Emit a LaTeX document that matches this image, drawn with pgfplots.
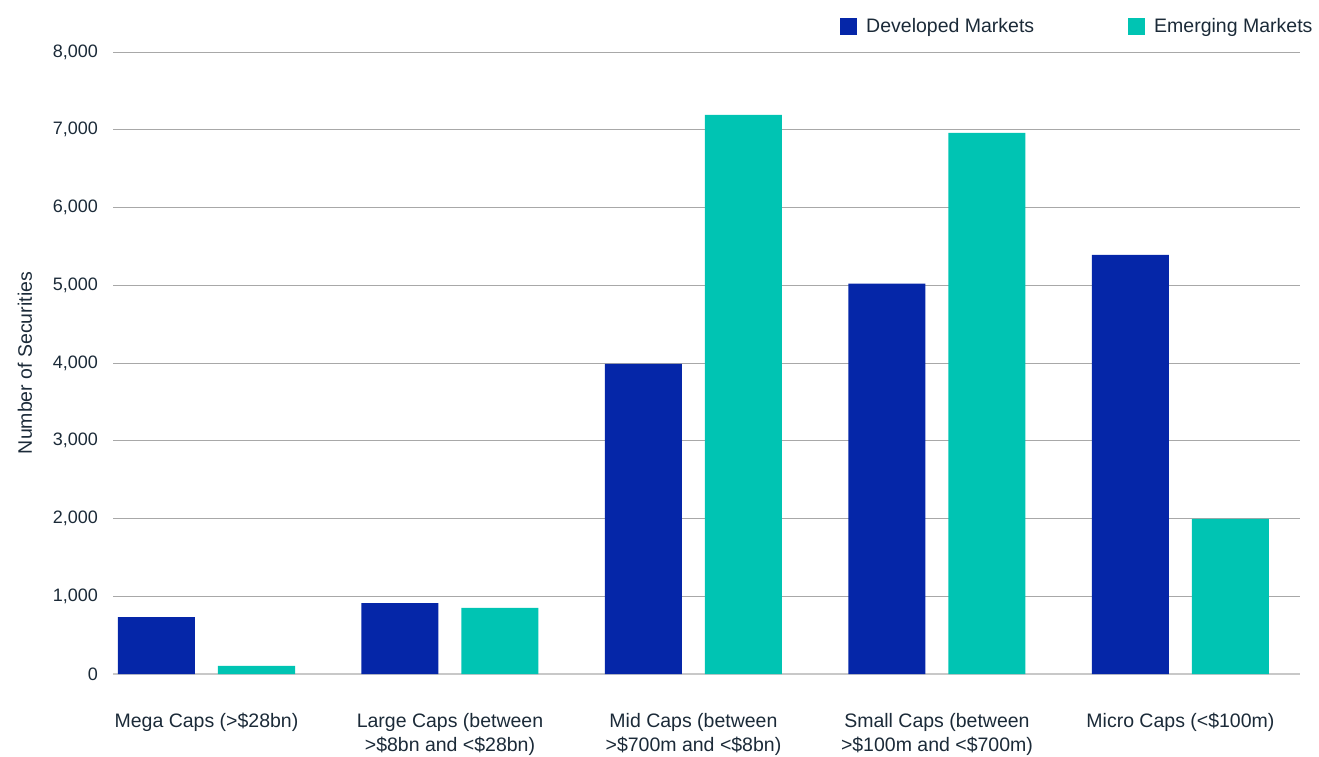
\documentclass[border=0pt]{standalone}
\usepackage{pgfplots}
\pgfplotsset{compat=1.18}
\usepackage{fontspec}
\setmainfont{Liberation Sans}
\definecolor{dm}{HTML}{0526A8}
\definecolor{em}{HTML}{00C4B3}
\definecolor{txt}{HTML}{1B2A38}
\definecolor{gridc}{HTML}{A8A8A8}
\definecolor{basec}{HTML}{C8C8C8}
\begin{document}
\begin{tikzpicture}
\useasboundingbox (0,0) rectangle (1319pt,756pt);
\begin{axis}[
  at={(113pt,82pt)}, anchor=south west,
  scale only axis, width=1187pt, height=622pt,
  xmin=-0.384, xmax=4.491, ymin=0, ymax=8000,
  ybar=23pt, bar width=77pt,
  axis line style={draw=none},
  major tick length=0pt,
  ytick={0,1000,...,8000},
  scaled y ticks=false,
  /pgf/number format/1000 sep={,},
  /pgf/number format/assume math mode=true,
  ymajorgrids, grid style={color=gridc, line width=0.9pt},
  extra y ticks={0}, extra y tick labels={},
  extra y tick style={grid style={color=basec, line width=2.2pt}},
  xtick={0,1,2,3,4},
  xticklabels={{Mega Caps (>\$28bn)},{Large Caps (between\\>\$8bn and <\$28bn)},{Mid Caps (between\\>\$700m and <\$8bn)},{Small Caps (between\\>\$100m and <\$700m)},{Micro Caps (<\$100m)}},
  xticklabel style={align=center, anchor=north, inner sep=0pt, yshift=-39pt, font=\fontsize{19.5}{24}\selectfont, text=txt},
  yticklabel style={anchor=east, inner sep=0pt, xshift=-15pt, font=\fontsize{18}{20}\selectfont, text=txt},
  ylabel={Number of Securities},
  ylabel style={at={([xshift=-88pt]axis description cs:0,0.5)}, anchor=center, rotate=0, font=\fontsize{19.5}{22}\selectfont, text=txt},
  legend columns=2,
  legend style={at={(axis description cs:0.6125,1.0418)}, anchor=west, draw=none, fill=none, inner sep=0pt,
    nodes={inner sep=0pt, text=txt}, font=\fontsize{19.5}{22}\selectfont,
    /tikz/every odd column/.style={column sep=9pt},
    /tikz/every even column/.style={column sep=94pt}},
]
\addplot[fill=dm, draw=none, legend image code/.code={\fill[dm] (0pt,-8.5pt) rectangle (17pt,8.5pt);}]
  coordinates {(0,733) (1,913) (2,3990) (3,5020) (4,5390)};
\addlegendentry{Developed Markets}
\addplot[fill=em, draw=none, legend image code/.code={\fill[em] (0pt,-8.5pt) rectangle (17pt,8.5pt);}]
  coordinates {(0,103) (1,850) (2,7190) (3,6960) (4,1995)};
\addlegendentry{Emerging Markets}
\end{axis}
\end{tikzpicture}
\end{document}
